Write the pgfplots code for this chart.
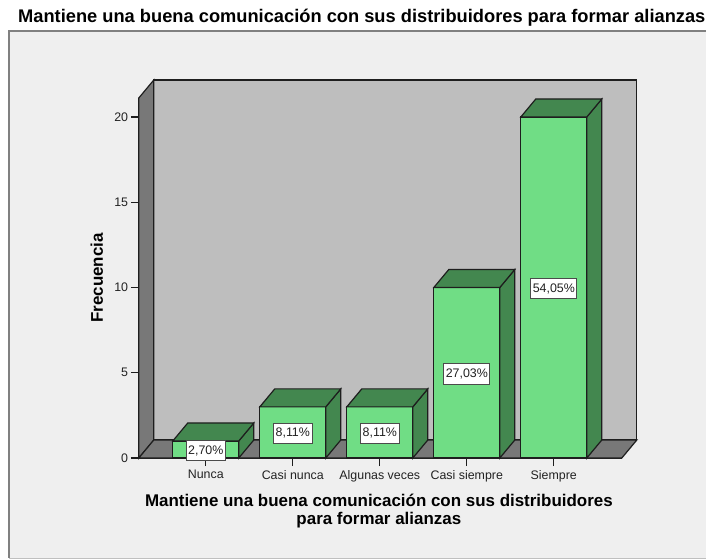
\documentclass[border=0pt]{standalone}
\usepackage{fontspec}
\setmainfont{Liberation Sans}
\usepackage{pgfplots}
\pgfplotsset{compat=1.18}
\definecolor{panel}{HTML}{EFEFEF}
\definecolor{wall}{HTML}{BEBEBE}
\definecolor{wallside}{HTML}{787878}
\definecolor{barfront}{HTML}{70DD85}
\definecolor{barside}{HTML}{43874F}
\definecolor{edge}{HTML}{1E1E1E}
\definecolor{txt}{HTML}{222222}
\begin{document}
\begin{tikzpicture}
\path[use as bounding box] (0,0) rectangle (529.5pt,-419.25pt);
\fill[white] (0,0) rectangle (529.5pt,-419.25pt);
\fill[panel] (6.75pt,-23.25pt) rectangle (529.5pt,-418.5pt);
\draw[color=gray,line width=0.9pt] (529.5pt,-23.25pt) -- (6.75pt,-23.25pt) -- (6.75pt,-418.5pt);
\draw[color=lightgray,line width=0.75pt] (6.75pt,-418.5pt) -- (529.5pt,-418.5pt);
\begin{axis}[
  at={(104.1pt,-343.5pt)}, anchor=south west,
  scale only axis, width=362.25pt, height=270pt,
  xmin=-0.7701, xmax=4.7816, ymin=0, ymax=21.114,
  clip=false,
  axis x line*=bottom, axis y line*=left,
  axis line style={color=edge,line width=0.9pt},
  xtick={0,1,2,3,4},
  xticklabels={Nunca,Casi nunca,Algunas veces,Casi siempre,Siempre},
  ytick={0,5,10,15,20},
  tick align=outside,
  major tick length=6pt,
  tick style={color=edge,line width=0.9pt},
  /pgf/number format/assume math mode=true,
  tick label style={font=\fontsize{9.3}{10}\selectfont,text=txt},
  xticklabel style={yshift=0.5pt},
  yticklabel style={xshift=1.5pt},
  ylabel={Frecuencia},
  xlabel={Mantiene una buena comunicación con sus distribuidores\\para formar alianzas},
  title={Mantiene una buena comunicación con sus distribuidores para formar alianzas},
  title style={at={(rel axis cs:0.4617,1.1997)},anchor=center,font=\bfseries\fontsize{13.7}{15}\selectfont,text=black},
  xlabel style={at={(rel axis cs:0.497,-0.147)},anchor=center,align=center,font=\bfseries\fontsize{12.7}{13.5}\selectfont,text=black},
  ylabel style={at={(rel axis cs:-0.087,0.5)},anchor=center,rotate=0,font=\bfseries\fontsize{12.7}{14}\selectfont,text=black},
  every axis plot/.append style={line width=0.9pt},
]
% walls
\addplot[fill=wall,draw=edge] coordinates {(-0.5977,1.0557) (4.954,1.0557) (4.954,22.17) (-0.5977,22.17)} -- cycle;
\addplot[fill=wallside,draw=edge] coordinates {(-0.7701,0) (-0.5977,1.0557) (-0.5977,22.17) (-0.7701,21.114)} -- cycle;
\addplot[fill=wallside,draw=edge] coordinates {(-0.7701,0) (-0.5977,1.0557) (4.954,1.0557) (4.7816,0)} -- cycle;
% bar fronts
\addplot[ybar,bar width=49.5pt,bar shift=0pt,fill=barfront,draw=edge] coordinates {(0,1) (1,3) (2,3) (3,10) (4,20)};
% bar sides
\addplot[fill=barside,draw=edge] coordinates {(0.3793,0) (0.5517,1.0557) (0.5517,2.0557) (0.3793,1)} -- cycle;
\addplot[fill=barside,draw=edge] coordinates {(-0.3793,1) (-0.2069,2.0557) (0.5517,2.0557) (0.3793,1)} -- cycle;
\addplot[fill=barside,draw=edge] coordinates {(1.3793,0) (1.5517,1.0557) (1.5517,4.0557) (1.3793,3)} -- cycle;
\addplot[fill=barside,draw=edge] coordinates {(0.6207,3) (0.7931,4.0557) (1.5517,4.0557) (1.3793,3)} -- cycle;
\addplot[fill=barside,draw=edge] coordinates {(2.3793,0) (2.5517,1.0557) (2.5517,4.0557) (2.3793,3)} -- cycle;
\addplot[fill=barside,draw=edge] coordinates {(1.6207,3) (1.7931,4.0557) (2.5517,4.0557) (2.3793,3)} -- cycle;
\addplot[fill=barside,draw=edge] coordinates {(3.3793,0) (3.5517,1.0557) (3.5517,11.0557) (3.3793,10)} -- cycle;
\addplot[fill=barside,draw=edge] coordinates {(2.6207,10) (2.7931,11.0557) (3.5517,11.0557) (3.3793,10)} -- cycle;
\addplot[fill=barside,draw=edge] coordinates {(4.3793,0) (4.5517,1.0557) (4.5517,21.0557) (4.3793,20)} -- cycle;
\addplot[fill=barside,draw=edge] coordinates {(3.6207,20) (3.7931,21.0557) (4.5517,21.0557) (4.3793,20)} -- cycle;
% percentage labels
\addplot[only marks,mark=none,point meta=explicit symbolic,
  nodes near coords,
  every node near coord/.append style={anchor=center,yshift=-0.75pt,fill=white,draw=edge!80,line width=0.75pt,
    inner ysep=0pt,inner xsep=1.6pt,minimum height=15.5pt,font=\fontsize{9.3}{10}\selectfont,text=txt}]
  coordinates {(0,0.5)[2,70\%] (1,1.5)[8,11\%] (2,1.5)[8,11\%] (3,5)[27,03\%] (4,10)[54,05\%]};
\end{axis}
\end{tikzpicture}
\end{document}
